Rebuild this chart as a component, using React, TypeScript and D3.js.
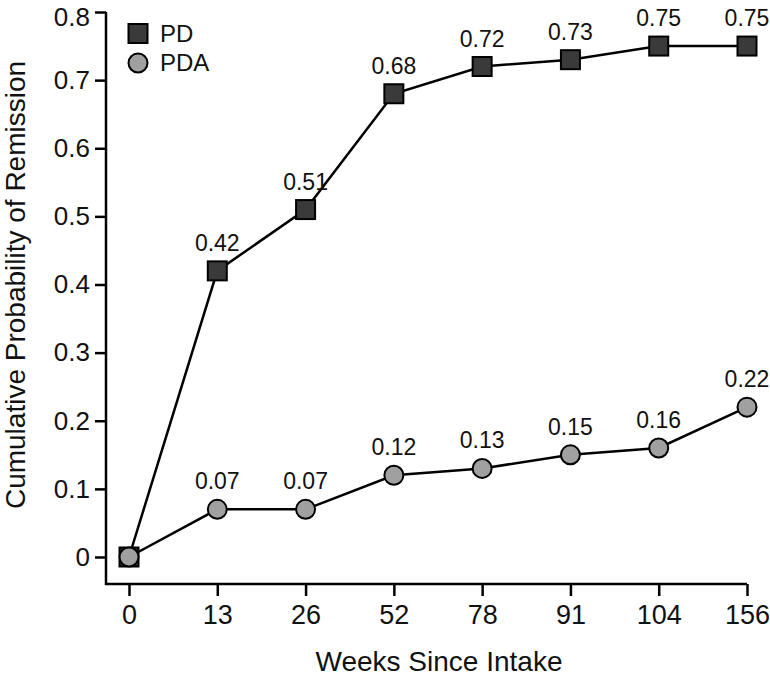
import React, { useRef, useEffect } from 'react';
import * as d3 from 'd3';

const weeks = ['0', '13', '26', '52', '78', '91', '104', '156'];
const pdValues = [0, 0.42, 0.51, 0.68, 0.72, 0.73, 0.75, 0.75];
const pdaValues = [0, 0.07, 0.07, 0.12, 0.13, 0.15, 0.16, 0.22];
const yTicks = [0, 0.1, 0.2, 0.3, 0.4, 0.5, 0.6, 0.7, 0.8];

const FONT = '"Liberation Sans", Arial, Helvetica, sans-serif';

const App: React.FC = () => {
  const svgRef = useRef<SVGSVGElement>(null);
  const width = 770;
  const height = 676;

  useEffect(() => {
    if (!svgRef.current) return;
    const svg = d3.select(svgRef.current);
    svg.selectAll('*').remove();

    const axisX = 106;
    const axisY = 584;

    const x = d3.scalePoint<string>().domain(weeks).range([129, 747]);
    const y = d3.scaleLinear().domain([0, 0.8]).range([557, 12]);

    // Y axis
    const yAxis = svg.append('g')
      .attr('transform', `translate(${axisX},0)`)
      .call(d3.axisLeft(y).tickValues(yTicks).tickSize(11).tickPadding(5)
        .tickFormat(d => (+d === 0 ? '0' : d3.format('.1f')(+d))));
    yAxis.select('.domain').remove();
    yAxis.selectAll('line').attr('stroke', '#000').attr('stroke-width', 2.5);
    yAxis.selectAll('text')
      .attr('font-family', FONT)
      .attr('font-size', 26)
      .attr('fill', '#111');
    // keep the top label inside the frame
    yAxis.selectAll<SVGTextElement, number>('text')
      .filter(d => d === 0.8)
      .attr('dy', '0.5em');

    // X axis
    const xAxis = svg.append('g')
      .attr('transform', `translate(0,${axisY})`)
      .call(d3.axisBottom(x).tickSize(12).tickPadding(9));
    xAxis.select('.domain').remove();
    xAxis.selectAll('line').attr('stroke', '#000').attr('stroke-width', 2.5);
    xAxis.selectAll('text')
      .attr('font-family', FONT)
      .attr('font-size', 27)
      .attr('fill', '#111');

    // axis frame lines
    svg.append('path')
      .attr('d', `M${axisX},${y(0.8)}V${axisY}H${x('156')}`)
      .attr('fill', 'none')
      .attr('stroke', '#000')
      .attr('stroke-width', 2.5);

    // Axis titles
    svg.append('text')
      .attr('x', 439)
      .attr('y', 671)
      .attr('text-anchor', 'middle')
      .attr('font-family', FONT)
      .attr('font-size', 28)
      .attr('fill', '#111')
      .text('Weeks Since Intake');

    svg.append('text')
      .attr('transform', 'rotate(-90)')
      .attr('x', -285)
      .attr('y', 25)
      .attr('text-anchor', 'middle')
      .attr('font-family', FONT)
      .attr('font-size', 28)
      .attr('fill', '#111')
      .text('Cumulative Probability of Remission');

    const line = d3.line<number>()
      .x((_, i) => x(weeks[i])!)
      .y(d => y(d));

    // PD series
    svg.append('path')
      .datum(pdValues)
      .attr('d', line)
      .attr('fill', 'none')
      .attr('stroke', '#000')
      .attr('stroke-width', 2.5);

    const sq = 19;
    svg.append('g')
      .selectAll('rect')
      .data(pdValues)
      .enter()
      .append('rect')
      .attr('x', (_, i) => x(weeks[i])! - sq / 2)
      .attr('y', d => y(d) - sq / 2)
      .attr('width', sq)
      .attr('height', sq)
      .attr('fill', '#3a3a3a')
      .attr('stroke', '#000')
      .attr('stroke-width', 2);

    // PDA series
    svg.append('path')
      .datum(pdaValues)
      .attr('d', line)
      .attr('fill', 'none')
      .attr('stroke', '#000')
      .attr('stroke-width', 2.5);

    svg.append('g')
      .selectAll('circle')
      .data(pdaValues)
      .enter()
      .append('circle')
      .attr('cx', (_, i) => x(weeks[i])!)
      .attr('cy', d => y(d))
      .attr('r', 9.5)
      .attr('fill', '#a0a0a0')
      .attr('stroke', '#000')
      .attr('stroke-width', 2);

    // value labels (skip week 0)
    const addLabels = (values: number[]) => {
      values.forEach((v, i) => {
        if (i === 0) return;
        svg.append('text')
          .attr('x', x(weeks[i])!)
          .attr('y', y(v) - 20)
          .attr('text-anchor', 'middle')
          .attr('font-family', FONT)
          .attr('font-size', 23)
          .attr('fill', '#111')
          .text(v.toFixed(2));
      });
    };
    addLabels(pdValues);
    addLabels(pdaValues);

    // Legend
    const legend = svg.append('g');
    legend.append('rect')
      .attr('x', 128.5)
      .attr('y', 24)
      .attr('width', sq)
      .attr('height', sq)
      .attr('fill', '#3a3a3a')
      .attr('stroke', '#000')
      .attr('stroke-width', 2);
    legend.append('text')
      .attr('x', 160)
      .attr('y', 42)
      .attr('font-family', FONT)
      .attr('font-size', 24)
      .attr('fill', '#111')
      .text('PD');
    legend.append('circle')
      .attr('cx', 138)
      .attr('cy', 63)
      .attr('r', 9.5)
      .attr('fill', '#a0a0a0')
      .attr('stroke', '#000')
      .attr('stroke-width', 2);
    legend.append('text')
      .attr('x', 160)
      .attr('y', 71)
      .attr('font-family', FONT)
      .attr('font-size', 24)
      .attr('fill', '#111')
      .text('PDA');
  }, []);

  return (
    <svg
      ref={svgRef}
      width={width}
      height={height}
      style={{ position: 'absolute', left: 0, top: 0, background: '#fff' }}
    />
  );
};

export default App;
